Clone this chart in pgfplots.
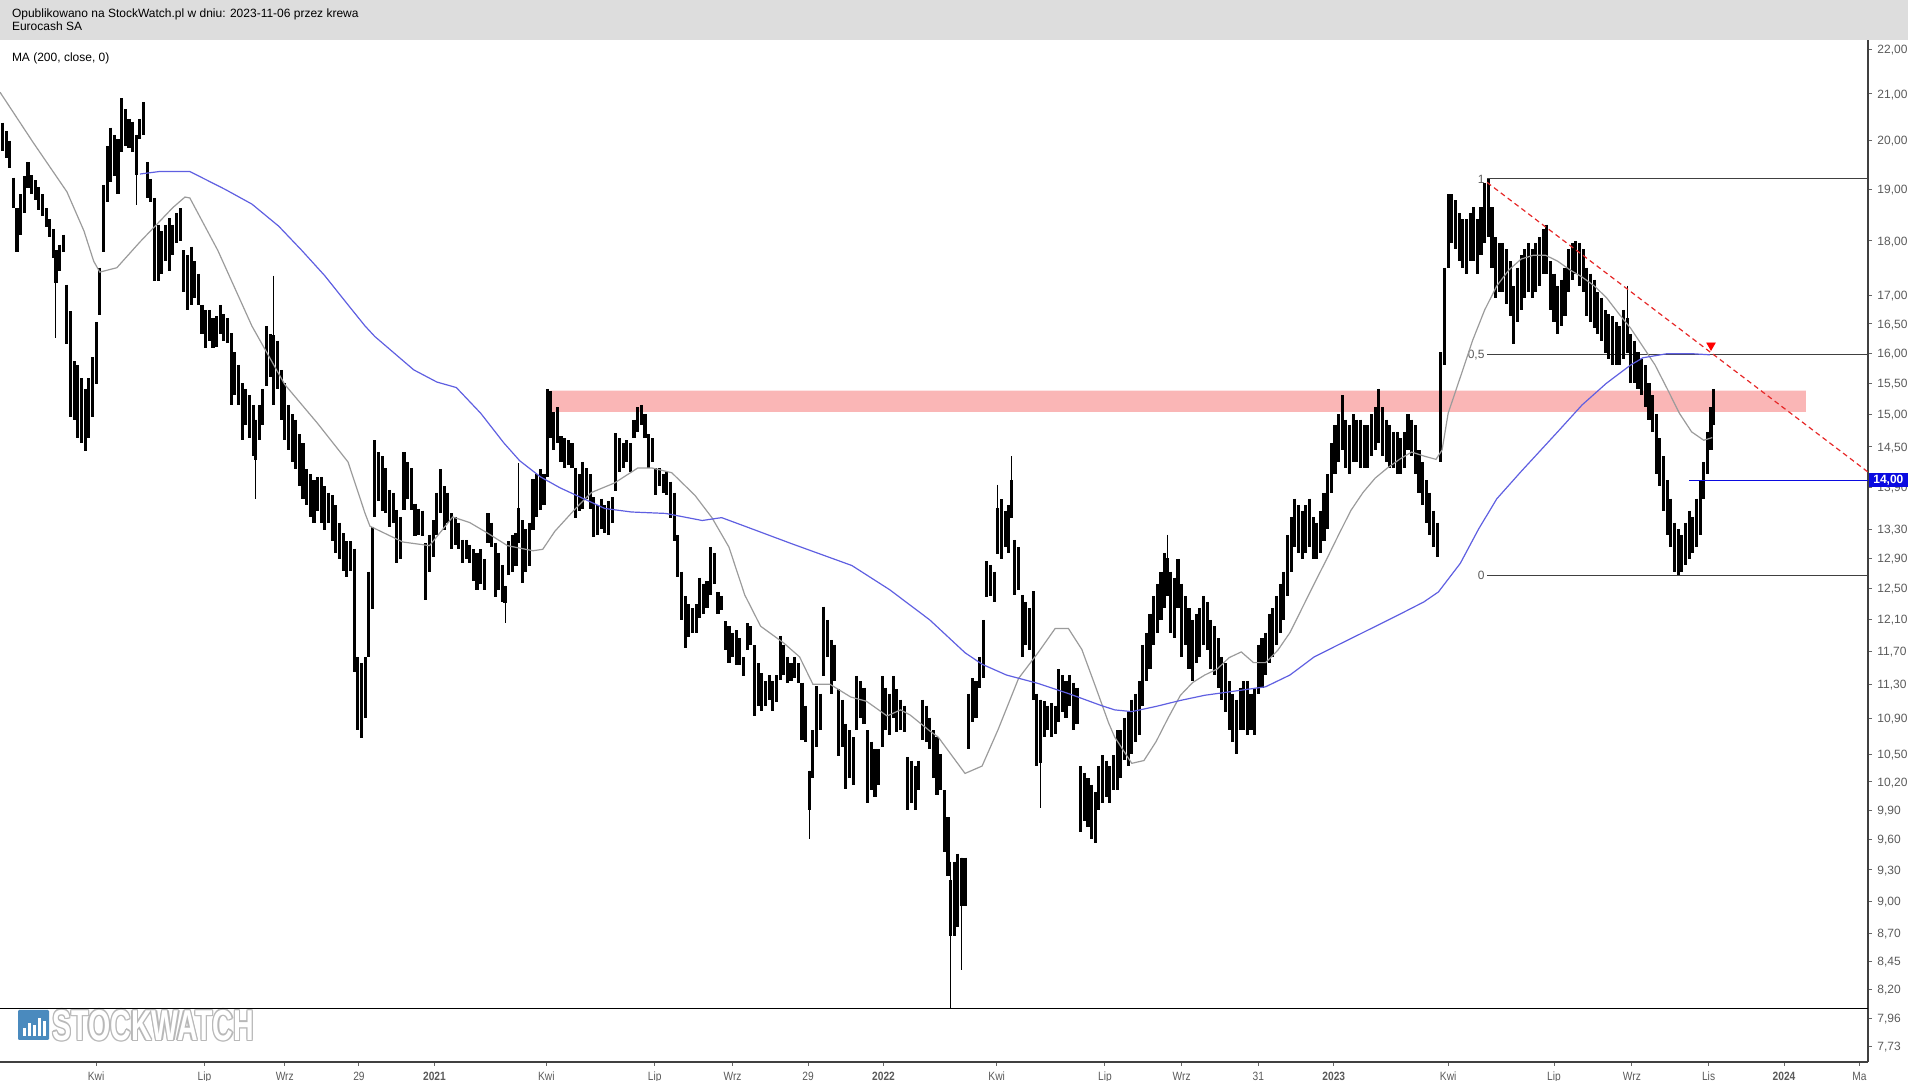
\documentclass[border=0pt]{standalone}
\usepackage{pgfplots}
\pgfplotsset{compat=1.18}
\usepackage{pgfplotstable}
\usepackage{fontspec}
\setmainfont{Liberation Sans}
\newfontfamily\narrowfont{Liberation Sans}[FakeStretch=0.85]
\newfontfamily\logofont{Liberation Sans}[FakeStretch=0.66]
\definecolor{hdr}{RGB}{221,221,221}
\definecolor{zone}{RGB}{250,182,182}
\definecolor{maGray}{RGB}{155,155,155}
\definecolor{maBlue}{RGB}{95,95,225}
\definecolor{curBlue}{RGB}{10,10,225}
\definecolor{dashRed}{RGB}{230,40,40}
\definecolor{tickTxt}{RGB}{90,90,90}
\definecolor{logoBlue}{RGB}{74,138,190}

\pgfplotstableread{
x h l
2 20.38 19.79
5 20.20 19.64
8 20.00 19.44
11 19.24 18.63
14 18.63 17.80
17 18.90 18.12
20 19.27 18.54
23 19.56 19.02
26 19.29 18.90
29 19.19 18.78
32 19.04 18.59
35 18.90 18.47
38 18.63 18.26
41 18.42 18.07
44 18.23 17.68
46 17.82 17.22
49 17.93 17.44
52 18.12 17.80
55 17.19 16.15
58 16.72 14.96
61 15.86 14.92
64 15.80 14.64
67 15.58 14.55
70 15.41 14.43
73 15.58 14.64
76 15.93 14.96
79 16.53 15.49
82 17.50 16.66
85 19.09 17.80
88 19.89 18.76
91 20.27 19.14
94 20.12 19.26
97 20.02 18.90
100 20.91 19.77
103 20.67 19.89
106 20.46 19.84
109 20.40 19.77
112 20.12 19.30
115 20.46 20.04
118 20.82 20.12
121 19.56 18.83
124 19.21 18.76
127 18.83 17.26
130 18.31 17.26
133 18.19 17.39
136 18.31 17.62
139 18.44 17.44
142 18.31 17.73
145 18.54 17.96
148 18.63 18.00
151 17.82 17.06
154 17.73 16.74
157 17.89 16.83
160 17.62 16.96
163 17.39 16.83
166 16.83 16.32
169 16.74 16.09
172 16.74 16.21
175 16.59 16.09
178 16.63 16.11
181 16.83 16.32
184 16.67 16.21
187 16.59 16.17
190 16.34 15.15
193 16.01 15.31
196 15.80 15.15
199 15.50 14.60
202 15.41 14.83
205 15.31 14.64
208 15.15 14.36
210 14.92 14.30
213 15.15 14.60
216 15.41 14.83
219 16.46 15.45
222 16.32 15.60
225 16.30 15.15
228 16.21 15.41
231 15.72 14.92
234 15.50 14.60
237 15.15 14.45
240 15.00 14.27
243 14.92 14.16
246 14.69 13.91
249 14.55 13.73
252 14.16 13.64
255 14.09 13.47
258 14.00 13.39
261 14.05 13.56
264 14.05 13.39
267 13.91 13.28
270 13.82 13.39
273 13.78 13.13
276 13.64 12.97
279 13.39 12.89
282 13.24 12.73
285 13.13 12.65
288 13.13 12.73
291 13.03 11.45
294 11.63 10.77
297 11.55 10.68
300 11.63 10.91
303 12.72 11.63
306 13.33 12.23
308 14.60 13.47
311 14.42 13.70
314 14.36 13.56
317 14.18 13.52
320 13.86 13.33
323 13.82 13.39
326 13.57 12.83
329 13.47 12.89
332 14.42 13.57
335 14.27 13.73
338 14.18 13.57
341 13.66 13.20
344 13.59 13.22
347 13.56 13.20
350 13.10 12.35
353 13.22 12.72
356 13.42 12.92
359 13.82 13.22
362 14.16 13.52
365 13.91 13.28
368 13.82 13.39
371 13.52 13.02
374 13.47 13.08
377 13.39 13.02
380 13.15 12.83
383 13.15 12.89
386 13.08 12.83
389 13.02 12.59
392 12.97 12.48
395 13.02 12.56
398 12.89 12.48
401 13.52 13.11
404 13.39 13.05
407 13.11 12.38
410 12.97 12.48
413 12.81 12.32
415 12.53 12.30
418 13.13 12.67
421 13.22 12.72
424 13.25 12.80
426 13.60 13.11
429 13.42 12.57
432 13.30 12.72
435 13.39 12.80
438 14.02 13.28
441 14.09 13.47
444 14.16 13.57
447 14.09 13.64
450 15.41 14.05
452 15.37 14.64
455 15.04 14.45
458 15.11 14.55
461 14.66 14.27
464 14.63 14.18
467 14.60 14.23
470 14.55 14.18
473 14.18 13.46
476 14.09 13.56
479 14.27 13.59
482 14.18 13.73
485 14.09 13.59
488 13.75 13.19
491 13.64 13.22
494 13.73 13.30
497 13.64 13.25
500 13.70 13.22
503 13.75 13.39
506 14.71 13.84
509 14.63 14.12
512 14.55 14.18
515 14.60 14.27
518 14.55 14.12
521 14.92 14.64
524 15.11 14.73
527 15.15 14.83
530 15.00 14.64
533 14.69 14.18
536 14.63 14.27
539 14.18 13.78
542 14.18 13.91
545 14.09 13.82
548 14.12 13.78
551 13.98 13.46
554 13.82 13.13
557 13.22 12.65
560 12.72 12.09
563 12.40 11.74
566 12.29 11.88
569 12.24 11.93
572 12.29 11.93
575 12.64 12.12
578 12.56 12.17
581 12.59 12.24
584 13.05 12.41
587 12.97 12.56
590 12.45 12.17
593 12.40 12.21
596 12.07 11.71
599 12.01 11.56
602 11.93 11.63
605 11.96 11.53
608 11.86 11.53
611 11.63 11.40
614 12.05 11.72
617 12.01 11.78
620 11.77 10.93
623 11.55 11.05
626 11.43 10.99
629 11.34 11.05
632 11.41 11.12
635 11.34 10.99
638 11.41 11.09
641 11.89 11.35
644 11.78 11.41
647 11.63 11.32
650 11.55 11.34
653 11.63 11.37
656 11.55 11.32
659 11.32 10.66
662 11.05 10.64
665 10.32 9.90
668 10.77 10.24
671 11.28 10.58
674 11.19 10.77
677 12.26 11.40
680 12.09 11.63
683 11.84 11.19
686 11.78 11.34
689 11.24 10.48
692 11.12 10.58
695 10.84 10.12
698 10.77 10.24
701 10.69 10.17
704 11.40 10.77
707 11.34 10.91
710 11.26 10.84
713 10.77 9.98
716 10.64 10.11
719 10.56 10.04
722 10.56 10.17
725 11.40 10.58
728 11.26 10.77
731 11.19 10.71
734 11.40 10.91
737 11.24 10.75
740 11.12 10.77
743 11.05 10.75
746 10.47 9.90
749 10.43 9.98
752 10.37 9.90
755 10.43 10.11
758 11.12 10.66
761 11.05 10.64
764 10.91 10.56
767 10.77 10.24
770 10.69 10.06
773 10.50 10.11
776 10.11 9.48
779 9.83 9.24
781 9.20 8.68
784 9.38 8.68
787 9.46 8.76
790 9.42 8.95
793 9.42 8.95
796 11.19 10.56
799 11.37 10.86
802 11.34 10.91
805 11.63 11.26
808 12.09 11.37
811 12.86 12.38
814 12.81 12.40
817 12.72 12.32
820 13.60 12.95
823 13.72 12.89
826 13.56 13.05
829 13.64 12.97
831 14.00 13.46
834 13.15 12.41
837 13.05 12.48
840 12.41 11.63
843 12.32 11.78
846 12.24 11.71
849 12.46 11.11
852 11.19 10.37
855 11.12 10.40
858 11.10 10.69
861 11.05 10.77
864 11.08 10.69
867 11.05 10.73
870 11.48 10.86
873 11.41 10.98
876 11.34 10.91
879 11.41 11.05
882 11.32 10.77
885 11.26 10.84
888 10.37 9.68
891 10.30 9.79
894 10.24 9.73
897 10.17 9.61
900 10.09 9.57
903 10.37 9.90
906 10.49 9.98
909 10.43 10.04
912 10.37 9.98
915 10.49 10.11
918 10.77 10.11
921 10.77 10.24
924 10.91 10.44
927 10.98 10.37
930 11.12 10.50
933 11.19 10.64
936 11.34 10.71
939 11.78 11.05
942 11.93 11.34
945 12.17 11.48
948 12.40 11.78
951 12.56 11.93
954 12.72 12.09
957 12.97 12.24
959 12.90 12.40
962 12.72 11.93
965 12.64 11.86
968 12.89 12.24
971 12.56 11.63
974 12.40 11.78
977 12.24 11.48
980 12.09 11.34
983 12.17 11.55
986 12.24 11.63
989 12.40 11.78
992 12.32 11.71
995 12.09 11.48
998 12.01 11.41
1001 11.86 11.26
1004 11.63 11.12
1007 11.55 10.98
1010 11.34 10.77
1013 11.19 10.64
1016 11.12 10.50
1019 11.26 10.77
1022 11.34 10.77
1025 11.34 10.71
1028 11.19 10.77
1031 11.26 10.71
1034 11.78 11.19
1037 11.86 11.26
1040 11.93 11.41
1043 12.17 11.55
1046 12.24 11.63
1049 12.40 11.78
1052 12.56 11.93
1055 12.72 12.09
1058 13.22 12.40
1061 13.47 12.72
1064 13.73 13.05
1067 13.64 12.97
1070 13.56 12.89
1073 13.64 12.97
1076 13.73 13.05
1079 13.47 12.89
1082 13.39 12.89
1085 13.56 12.97
1088 13.82 13.13
1091 14.09 13.30
1094 14.55 13.82
1097 14.83 14.09
1100 15.00 14.27
1103 15.31 14.45
1106 14.92 14.18
1109 14.83 14.09
1112 15.00 14.27
1115 14.92 14.27
1118 14.92 14.18
1121 14.83 14.18
1124 14.83 14.18
1127 15.00 14.36
1130 15.11 14.45
1133 15.41 14.55
1136 15.11 14.36
1139 14.92 14.27
1142 14.83 14.18
1145 14.73 14.18
1148 14.73 14.09
1151 14.63 14.09
1154 14.73 14.18
1157 15.00 14.45
1160 14.92 14.36
1163 14.83 14.09
1166 14.45 13.82
1169 14.27 13.64
1172 14.00 13.39
1175 13.82 13.22
1178 13.56 13.05
1181 13.39 12.92
1184 16.01 14.27
1187 17.50 15.80
1190 18.90 17.50
1193 18.90 17.96
1196 18.78 17.84
1199 18.54 17.62
1202 18.42 17.50
1205 18.42 17.39
1208 18.54 17.62
1211 18.65 17.62
1214 18.42 17.39
1217 18.65 17.73
1220 19.13 17.96
1223 19.21 18.07
1226 18.65 17.50
1229 18.07 16.96
1232 17.96 17.06
1235 17.96 17.06
1238 17.84 16.85
1241 17.62 16.63
1244 17.17 16.15
1247 17.50 16.53
1250 17.73 16.74
1253 17.84 16.96
1256 17.96 17.06
1259 17.84 16.96
1262 17.96 17.06
1265 18.07 17.17
1268 18.23 17.39
1271 18.31 17.39
1274 17.62 16.74
1277 17.39 16.53
1280 17.17 16.32
1283 17.28 16.46
1286 17.50 16.63
1289 17.84 17.06
1292 17.96 17.28
1295 18.00 17.39
1298 17.96 17.17
1301 17.84 17.06
1304 17.50 16.63
1307 17.39 16.53
1310 17.28 16.42
1313 17.06 16.32
1316 16.96 16.21
1319 16.74 16.00
1322 16.67 15.90
1325 16.63 15.80
1328 16.53 15.80
1331 16.46 15.80
1334 16.74 15.90
1337 16.60 16.00
1340 16.32 15.50
1343 16.21 15.50
1346 16.01 15.41
1349 15.90 15.31
1352 15.80 15.11
1355 15.50 14.92
1358 15.31 14.73
1361 15.00 14.09
1364 14.63 13.91
1367 14.36 13.56
1370 14.00 13.22
1373 13.73 13.05
1376 13.39 12.72
1379 13.30 12.67
1382 13.22 12.72
1385 13.39 12.81
1388 13.56 12.89
1391 13.47 12.97
1394 13.73 13.05
1397 14.00 13.22
1400 14.27 13.73
1403 14.73 14.09
1406 15.11 14.45
1408 15.41 14.83
}\candles

\pgfplotstableread{
x h l
46 17.82 16.25
112 20.12 18.70
210 14.92 13.73
225 17.35 15.15
415 12.53 12.05
426 14.25 13.11
665 10.32 9.61
781 9.38 8.04
790 9.42 8.37
820 13.93 12.95
831 14.36 13.46
855 11.12 9.92
959 13.22 12.40
1337 17.17 16.00
}\wicks

\begin{document}
\begin{tikzpicture}
\useasboundingbox (0,-9.5pt) rectangle (954pt,531pt);
% header
\fill[hdr] (0,511pt) rectangle (954pt,531pt);
\node[anchor=base west, inner sep=0pt, font=\fontsize{6}{7}\selectfont] at (5.8pt,522.3pt) {Opublikowano na StockWatch.pl w dniu: 2023-11-06 przez krewa};
\node[anchor=base west, inner sep=0pt, font=\fontsize{6}{7}\selectfont] at (5.8pt,515.7pt) {Eurocash SA};
\node[anchor=base west, inner sep=0pt, font=\fontsize{6}{7}\selectfont] at (5.8pt,500.2pt) {MA (200, close, 0)};
% watermark logo
\fill[logoBlue, rounded corners=0.6pt] (9pt,11pt) rectangle (24.5pt,26pt);
\foreach \bx/\bh in {11.5/4, 14/6.5, 16.5/5.5, 19/9, 21.5/7.5} {\fill[white] (\bx pt,13pt) rectangle (\bx pt+1.3pt,13pt+\bh pt);}
\foreach \dx/\dy in {0.7/0, -0.7/0, 0/0.7, 0/-0.7, 0.5/0.5, -0.5/-0.5, 0.5/-0.5, -0.5/0.5} {
  \node[anchor=base west, inner sep=0pt, text=black!28, font=\logofont\bfseries\fontsize{21.6}{22}\selectfont] at (26pt+\dx pt,10.8pt+\dy pt) {STOCKWATCH};}
\node[anchor=base west, inner sep=0pt, text=white, font=\logofont\bfseries\fontsize{21.6}{22}\selectfont] at (26pt,10.8pt) {STOCKWATCH};

\begin{axis}[
  at={(0,0)}, anchor=south west,
  scale only axis, width=934pt, height=511pt,
  xmin=0, xmax=1535, ymin=7.602, ymax=22.226,
  ymode=log, clip=false,
  axis x line*=bottom, axis y line*=right,
  axis line style={draw=black!75, line width=0.6pt},
  tick align=outside, major tick length=2pt,
  tick style={draw=black!60, line width=0.5pt},
  xtick={79,168,234,295,357,449,538,602,664,726,819,908,971,1034,1096,1190,1277,1341,1404,1466,1528},
  xticklabels={Kwi,Lip,Wrz,29,\textbf{2021},Kwi,Lip,Wrz,29,\textbf{2022},Kwi,Lip,Wrz,31,\textbf{2023},Kwi,Lip,Wrz,Lis,\textbf{2024},Ma},
  xticklabel style={font=\narrowfont\fontsize{6}{7}\selectfont, text=tickTxt, inner sep=0pt, anchor=base, yshift=-7.2pt},
  ytick={7.73,7.96,8.2,8.45,8.7,9,9.3,9.6,9.9,10.2,10.5,10.9,11.3,11.7,12.1,12.5,12.9,13.3,13.9,14.5,15,15.5,16,16.5,17,18,19,20,21,22},
  yticklabels={{7,73},{7,96},{8,20},{8,45},{8,70},{9,00},{9,30},{9,60},{9,90},{10,20},{10,50},{10,90},{11,30},{11,70},{12,10},{12,50},{12,90},{13,30},{13,90},{14,50},{15,00},{15,50},{16,00},{16,50},{17,00},{18,00},{19,00},{20,00},{21,00},{22,00}},
  yticklabel style={font=\fontsize{6}{7}\selectfont, text=tickTxt, inner sep=0pt, anchor=base west, xshift=2.5pt, yshift=-2.15pt},
  minor tick num=0,
]
% resistance zone
\addplot[fill=zone, draw=none, forget plot] coordinates {(452,15.04) (1484,15.04) (1484,15.38) (452,15.38) (452,15.04)};
% bottom marker line
\addplot[black, line width=0.6pt, forget plot] coordinates {(0,8.04) (1535,8.04)};
% fibonacci levels
\addplot[black!75, line width=0.5pt, forget plot] coordinates {(1222,19.21) (1535,19.21)};
\addplot[black!75, line width=0.5pt, forget plot] coordinates {(1222,15.97) (1535,15.97)};
\addplot[black!75, line width=0.5pt, forget plot] coordinates {(1222,12.67) (1535,12.67)};
\node[anchor=east, inner sep=0.5pt, text=tickTxt, font=\fontsize{6}{7}\selectfont] at (axis cs:1221,19.21) {1};
\node[anchor=east, inner sep=0.5pt, text=tickTxt, font=\fontsize{6}{7}\selectfont] at (axis cs:1221,15.97) {0,5};
\node[anchor=east, inner sep=0.5pt, text=tickTxt, font=\fontsize{6}{7}\selectfont] at (axis cs:1221,12.67) {0};
% candles (high-low bars)
\addplot[only marks, mark=none, mark size=0pt, mark options={draw=none, fill=none}, forget plot,
  error bars/.cd, y dir=minus, y explicit, error mark=none,
  error bar style={line width=1.55pt, draw=black}]
  table[x=x, y=h, y error expr=\thisrow{h}-\thisrow{l}] {\candles};
\addplot[only marks, mark=none, mark size=0pt, mark options={draw=none, fill=none}, forget plot,
  error bars/.cd, y dir=minus, y explicit, error mark=none,
  error bar style={line width=0.5pt, draw=black}]
  table[x=x, y=h, y error expr=\thisrow{h}-\thisrow{l}] {\wicks};
% short moving average (gray)
\addplot[maGray, line width=0.6pt, forget plot] coordinates {
(0,21.04) (27,19.97) (55,18.95) (69,18.19) (77,17.62) (82,17.42) (96,17.50) (115,17.98) (142,18.64) (152,18.85) (156,18.83) (179,17.82) (207,16.46) (234,15.48) (261,14.86) (286,14.27) (300,13.52) (304,13.34) (331,13.12) (353,13.07) (372,13.47) (386,13.39) (400,13.25) (417,13.07) (438,13.00) (446,13.02) (456,13.27) (473,13.59) (486,13.82) (505,13.96) (524,14.18) (536,14.18) (552,14.11) (571,13.78) (585,13.46) (599,13.05) (612,12.41) (625,12.01) (644,11.80) (657,11.63) (668,11.30) (682,11.30) (699,11.15) (712,11.10) (729,10.93) (740,11.00) (748,10.94) (764,10.76) (771,10.69) (793,10.29) (807,10.37) (820,10.77) (837,11.37) (853,11.68) (867,11.98) (878,11.98) (889,11.72) (900,11.28) (911,10.85) (916,10.69) (930,10.40) (940,10.43) (950,10.64) (960,10.91) (970,11.17) (980,11.32) (990,11.41) (1000,11.48) (1010,11.62) (1020,11.69) (1030,11.56) (1040,11.56) (1050,11.71) (1060,11.93) (1070,12.24) (1080,12.56) (1090,12.88) (1100,13.22) (1110,13.56) (1120,13.82) (1130,14.03) (1140,14.18) (1150,14.31) (1160,14.42) (1170,14.36) (1180,14.31) (1185,14.45) (1190,15.02) (1200,15.60) (1210,16.21) (1220,16.74) (1230,17.17) (1240,17.46) (1250,17.66) (1260,17.73) (1270,17.73) (1280,17.62) (1290,17.46) (1300,17.33) (1310,17.17) (1320,16.96) (1330,16.68) (1340,16.42) (1350,16.11) (1360,15.80) (1370,15.41) (1380,15.02) (1390,14.73) (1400,14.60) (1407,14.64)};
% MA 200 (blue)
\addplot[maBlue, line width=0.6pt, forget plot] coordinates {
(115,19.31) (131,19.36) (156,19.36) (185,19.00) (207,18.71) (229,18.28) (248,17.82) (267,17.35) (286,16.83) (300,16.46) (308,16.28) (340,15.72) (359,15.52) (375,15.43) (395,15.02) (414,14.56) (427,14.29) (444,14.05) (460,13.89) (497,13.59) (519,13.54) (547,13.52) (577,13.42) (593,13.46) (612,13.34) (650,13.10) (700,12.80) (731,12.48) (764,12.09) (793,11.68) (807,11.54) (827,11.41) (853,11.31) (878,11.19) (905,11.05) (916,11.00) (930,10.98) (950,11.04) (970,11.11) (990,11.17) (1010,11.21) (1040,11.27) (1060,11.41) (1080,11.63) (1100,11.78) (1120,11.93) (1150,12.16) (1170,12.32) (1182,12.45) (1200,12.83) (1215,13.30) (1230,13.73) (1250,14.13) (1280,14.73) (1300,15.15) (1320,15.50) (1340,15.80) (1350,15.92) (1370,15.99) (1390,15.99) (1405,15.97)};
% downtrend line
\addplot[dashRed, line width=0.6pt, dash pattern=on 2.5pt off 1.8pt, forget plot] coordinates {(1222,19.14) (1535,14.12)};
\addplot[only marks, mark=triangle*, mark size=2.4pt, mark options={rotate=180, fill=red, draw=red}, forget plot] coordinates {(1406,16.13)};
% current price
\addplot[curBlue, line width=0.6pt, forget plot] coordinates {(1388,14) (1535,14)};
\node[anchor=west, fill=curBlue, text=white, inner sep=0pt, minimum width=19.5pt, minimum height=7pt, font=\bfseries\fontsize{6}{7}\selectfont] at (axis cs:1535.4,14) {14,00};
\end{axis}
\end{tikzpicture}
\end{document}
